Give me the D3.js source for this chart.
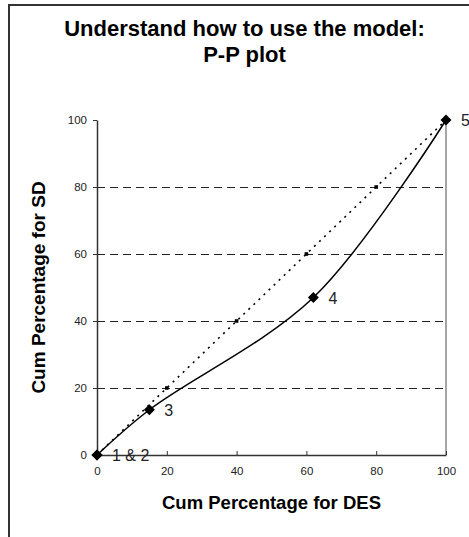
<!DOCTYPE html>
<html><head><meta charset="utf-8">
<script src="https://cdn.jsdelivr.net/npm/d3@7"></script>
<style>body{margin:0;background:#fff}svg{display:block}</style>
</head><body>
<svg id="c" width="469" height="537"></svg>
<script>
const titleLines = ["Understand how to use the model:", "P-P plot"];
const xTitle = "Cum Percentage for DES";
const yTitle = "Cum Percentage for SD";
const xTicks = [0, 20, 40, 60, 80, 100];
const yTicks = [0, 20, 40, 60, 80, 100];
const gridValues = [20, 40, 60, 80];
// P-P points (DES %, SD %)
const pointLabels = ["1", "2", "3", "4", "5"];
const desCum = [0, 0, 15, 62, 100];
const sdCum = [0, 0, 13.5, 47, 100];
const shownLabels = ["1 & 2", "", "3", "4", "5"];
// reference diagonal
const diagX = [0, 20, 40, 60, 80, 100];
const diagY = [0, 20, 40, 60, 80, 100];

const svg = d3.select("#c");
const x = d3.scaleLinear().domain([0, 100]).range([97, 446]);
const y = d3.scaleLinear().domain([0, 100]).range([455, 120]);
const font = "'Liberation Sans', Arial, sans-serif";

// outer frame (clipped at right/bottom)
svg.append("rect").attr("x", 9).attr("y", 5).attr("width", 600).attr("height", 600)
  .attr("fill", "none").attr("stroke", "#333").attr("stroke-width", 2);

// title
svg.append("text").attr("x", 244.5).attr("y", 36).attr("text-anchor", "middle")
  .attr("font-family", font).attr("font-weight", "bold").attr("font-size", 22)
  .attr("fill", "#000").text(titleLines[0]);
svg.append("text").attr("x", 244.5).attr("y", 62).attr("text-anchor", "middle")
  .attr("font-family", font).attr("font-weight", "bold").attr("font-size", 22)
  .attr("fill", "#000").text(titleLines[1]);

// gridlines
svg.append("g").selectAll("line").data(gridValues).join("line")
  .attr("x1", x(0)).attr("x2", x(100)).attr("y1", d => Math.round(y(d)) + 0.5).attr("y2", d => Math.round(y(d)) + 0.5)
  .attr("stroke", "#222").attr("stroke-width", 1).attr("stroke-dasharray", "8,5");

// right border of plot area
svg.append("line").attr("x1", x(100)).attr("x2", x(100)).attr("y1", y(100)).attr("y2", y(0))
  .attr("stroke", "#888").attr("stroke-width", 1.5);

// axes
const xAxis = d3.axisBottom(x).tickValues(xTicks).tickSizeInner(-4).tickSizeOuter(0).tickPadding(12);
const gx = svg.append("g").attr("transform", `translate(0,${y(0)})`).call(xAxis);
const yAxis = d3.axisLeft(y).tickValues(yTicks).tickSizeInner(4).tickSizeOuter(0).tickPadding(6);
const gy = svg.append("g").attr("transform", `translate(${x(0)},0)`).call(yAxis);
[gx, gy].forEach(g => {
  g.select(".domain").attr("stroke", "#333").attr("stroke-width", 1.5);
  g.selectAll(".tick line").attr("stroke", "#333");
  g.selectAll(".tick text").attr("font-family", font).attr("font-size", 11.5).attr("fill", "#222");
});

// axis titles
svg.append("text").attr("x", 271.5).attr("y", 509).attr("text-anchor", "middle")
  .attr("font-family", font).attr("font-weight", "bold").attr("font-size", 18.5)
  .attr("fill", "#000").text(xTitle);
svg.append("text").attr("transform", `translate(45,${(y(0) + y(100)) / 2}) rotate(-90)`)
  .attr("text-anchor", "middle")
  .attr("font-family", font).attr("font-weight", "bold").attr("font-size", 19)
  .attr("fill", "#000").text(yTitle);

// diagonal dotted line
const diag = diagX.map((d, i) => [d, diagY[i]]);
svg.append("path").datum(diag)
  .attr("d", d3.line().x(d => x(d[0])).y(d => y(d[1])))
  .attr("fill", "none").attr("stroke", "#000").attr("stroke-width", 1.6)
  .attr("stroke-dasharray", "2,5");
svg.append("g").selectAll("rect").data(diag.slice(1, -1)).join("rect")
  .attr("x", d => x(d[0]) - 1.8).attr("y", d => y(d[1]) - 1.8)
  .attr("width", 3.6).attr("height", 3.6).attr("fill", "#000");

// P-P curve
const pts = desCum.map((d, i) => ({ x: d, y: sdCum[i], lab: shownLabels[i] }));
svg.append("path").datum(pts)
  .attr("d", d3.line().x(d => x(d.x)).y(d => y(d.y)).curve(d3.curveCatmullRom.alpha(0.5)))
  .attr("fill", "none").attr("stroke", "#000").attr("stroke-width", 1.5);

// diamond markers
const diamond = (cx, cy, r) => `M${cx},${cy - r}L${cx + r},${cy}L${cx},${cy + r}L${cx - r},${cy}Z`;
svg.append("g").selectAll("path").data(pts).join("path")
  .attr("d", d => diamond(x(d.x), y(d.y), 5.5)).attr("fill", "#000");

// point labels
svg.append("g").selectAll("text").data(pts.filter(d => d.lab)).join("text")
  .attr("x", d => x(d.x) + 15).attr("y", d => y(d.y) + 6)
  .attr("font-family", font).attr("font-size", 16).attr("fill", "#222")
  .text(d => d.lab);
</script>
</body></html>
